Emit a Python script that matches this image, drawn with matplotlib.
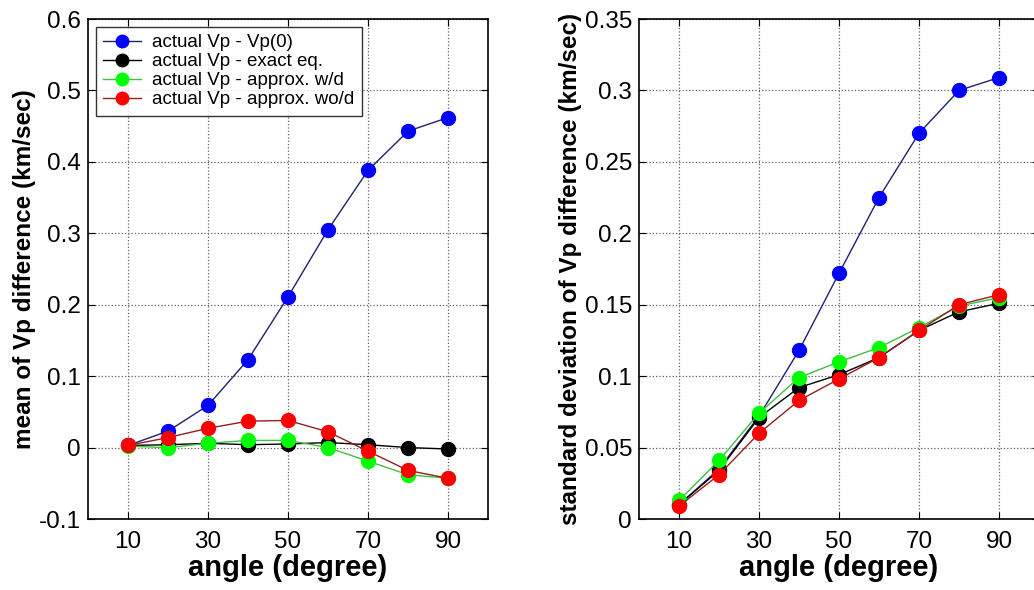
import matplotlib
matplotlib.use('Agg')
import matplotlib.pyplot as plt

plt.rcParams['font.family'] = ['Liberation Sans', 'DejaVu Sans']

# Data
angles = [10, 20, 30, 40, 50, 60, 70, 80, 90]

mean_vp0 = [0.003, 0.023, 0.059, 0.123, 0.211, 0.305, 0.388, 0.443, 0.462]
mean_exact = [0.003, 0.004, 0.006, 0.004, 0.005, 0.007, 0.004, 0.0, -0.002]
mean_wd = [0.002, 0.0, 0.006, 0.010, 0.010, 0.0, -0.019, -0.038, -0.043]
mean_wod = [0.003, 0.014, 0.027, 0.037, 0.038, 0.022, -0.005, -0.032, -0.043]

std_vp0 = [0.010, 0.035, 0.072, 0.118, 0.172, 0.225, 0.270, 0.300, 0.309]
std_exact = [0.010, 0.034, 0.071, 0.092, 0.101, 0.113, 0.132, 0.145, 0.151]
std_wd = [0.013, 0.041, 0.074, 0.099, 0.110, 0.120, 0.134, 0.149, 0.155]
std_wod = [0.009, 0.031, 0.060, 0.083, 0.098, 0.113, 0.132, 0.150, 0.157]

labels = ['actual Vp - Vp(0)', 'actual Vp - exact eq.',
          'actual Vp - approx. w/d', 'actual Vp - approx. wo/d']
marker_colours = ['#0000ff', '#000000', '#00ff00', '#ff0000']
line_colours = ['#202070', '#000000', '#40c040', '#902020']

xticks = [10, 30, 50, 70, 90]
left_yticks = [-0.1, 0, 0.1, 0.2, 0.3, 0.4, 0.5, 0.6]
left_yticklabels = ['-0.1', '0', '0.1', '0.2', '0.3', '0.4', '0.5', '0.6']
right_yticks = [0, 0.05, 0.1, 0.15, 0.2, 0.25, 0.3, 0.35]
right_yticklabels = ['0', '0.05', '0.1', '0.15', '0.2', '0.25', '0.3', '0.35']

fig = plt.figure(figsize=(10.34, 5.9), dpi=100)
W, H = 1034, 590
axL = fig.add_axes([88 / W, (H - 519) / H, 400 / W, 500 / H])
axR = fig.add_axes([639 / W, (H - 519) / H, 400 / W, 500 / H])


def draw(ax, series, yticks, yticklabels, ylim, ylabel):
    for ys, mc, lc, lab in zip(series, marker_colours, line_colours, labels):
        ax.plot(angles, ys, '-', color=lc, lw=1.0, marker='o', markersize=10,
                markerfacecolor=mc, markeredgecolor=mc, label=lab)
    ax.set_xlim(0, 100)
    ax.set_ylim(*ylim)
    ax.set_xticks(xticks)
    ax.set_xticklabels([str(t) for t in xticks])
    ax.set_yticks(yticks)
    ax.set_yticklabels(yticklabels)
    ax.tick_params(direction='in', labelsize=17.5, length=5, top=True, right=True)
    ax.tick_params(axis='x', pad=9)
    ax.tick_params(axis='y', pad=5)
    ax.grid(True, linestyle=':', color='#606060', lw=0.9)
    for s in ax.spines.values():
        s.set_linewidth(1.2)
    ax.set_xlabel('angle (degree)', fontsize=21, fontweight='bold', labelpad=0)
    ax.set_ylabel(ylabel, fontsize=17.5, fontweight='bold', labelpad=2)


draw(axL, [mean_vp0, mean_exact, mean_wd, mean_wod], left_yticks, left_yticklabels,
     (-0.1, 0.6), 'mean of Vp difference (km/sec)')
draw(axR, [std_vp0, std_exact, std_wd, std_wod], right_yticks, right_yticklabels,
     (0, 0.35), 'standard deviation of Vp difference (km/sec)')

leg = axL.legend(loc='upper left', fontsize=13.5, frameon=True, fancybox=False,
                 edgecolor='black', borderaxespad=0.4, handlelength=2.0,
                 labelspacing=0.1, handletextpad=0.6, markerscale=0.9,
                 borderpad=0.4)
leg.get_frame().set_linewidth(1.0)

fig.savefig('out.png', dpi=100)
